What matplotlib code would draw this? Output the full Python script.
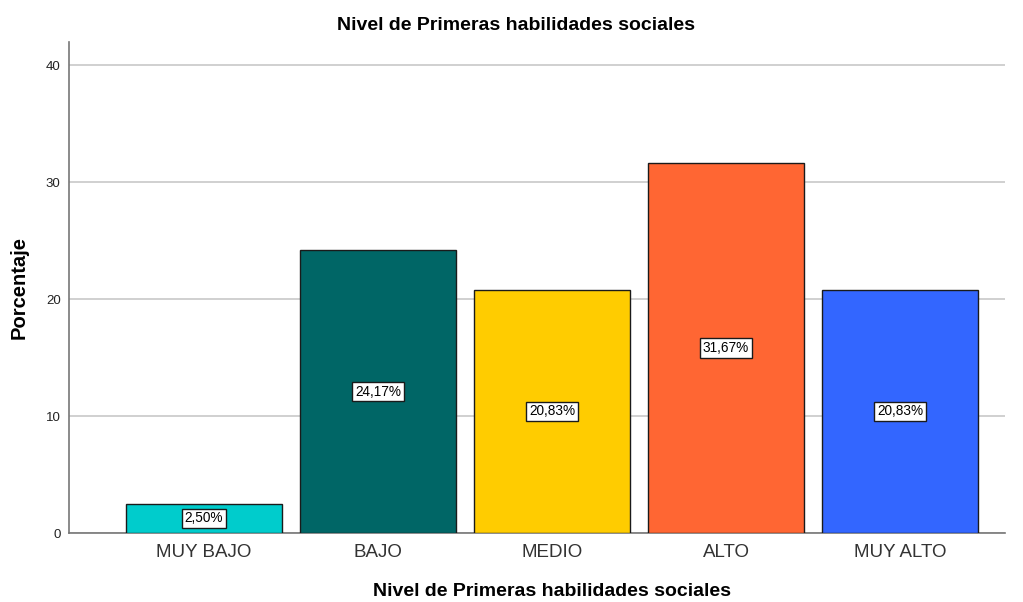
import matplotlib
matplotlib.use("Agg")
import matplotlib.pyplot as plt

plt.rcParams['font.family'] = ['Liberation Sans', 'DejaVu Sans']

categories = ["MUY BAJO", "BAJO", "MEDIO", "ALTO", "MUY ALTO"]
values = [2.50, 24.17, 20.83, 31.67, 20.83]
labels = ["2,50%", "24,17%", "20,83%", "31,67%", "20,83%"]
colors = ["#00CCCC", "#006666", "#FFCC00", "#FF6633", "#3366FF"]
yticks = [0, 10, 20, 30, 40]

fig = plt.figure(figsize=(10.23, 6.02), dpi=100)
ax = fig.add_axes([0.0674, 0.1146, 0.915, 0.8156])

x = list(range(len(categories)))
ax.bar(x, values, width=0.897, color=colors, edgecolor="#1a1a1a", linewidth=1.0, zorder=3)
for xi, v, lab in zip(x, values, labels):
    ax.text(xi, v / 2, lab, ha="center", va="center", fontsize=9.8, color="black", zorder=4,
            bbox=dict(boxstyle="square,pad=0.2", facecolor="white", edgecolor="#1a1a1a", linewidth=1.0))

ax.set_xlim(-0.776, 4.603)
ax.set_ylim(0, 42)
ax.set_yticks(yticks)
ax.set_yticklabels([str(t) for t in yticks], fontsize=9.5, color="#222222")
ax.set_xticks(x)
ax.set_xticklabels(categories, fontsize=13.5, color="#333333")
ax.tick_params(axis="x", length=0, pad=8)
ax.tick_params(axis="y", length=0, pad=6)
ax.grid(axis="y", color="#c8c8c8", linewidth=1.2, zorder=0)
for s in ["top", "right"]:
    ax.spines[s].set_visible(False)
for s in ["left", "bottom"]:
    ax.spines[s].set_color("#777777")
    ax.spines[s].set_linewidth(1.2)

ax.set_ylabel("Porcentaje", fontsize=14.5, fontweight="bold", labelpad=12)
fig.text(552 / 1023, 1 - 592 / 602, "Nivel de Primeras habilidades sociales", ha="center", va="center",
         fontsize=14, fontweight="bold")
fig.text(516 / 1023, 1 - 25 / 602, "Nivel de Primeras habilidades sociales", ha="center", va="center",
         fontsize=14, fontweight="bold")

fig.savefig("out.png", dpi=100)
